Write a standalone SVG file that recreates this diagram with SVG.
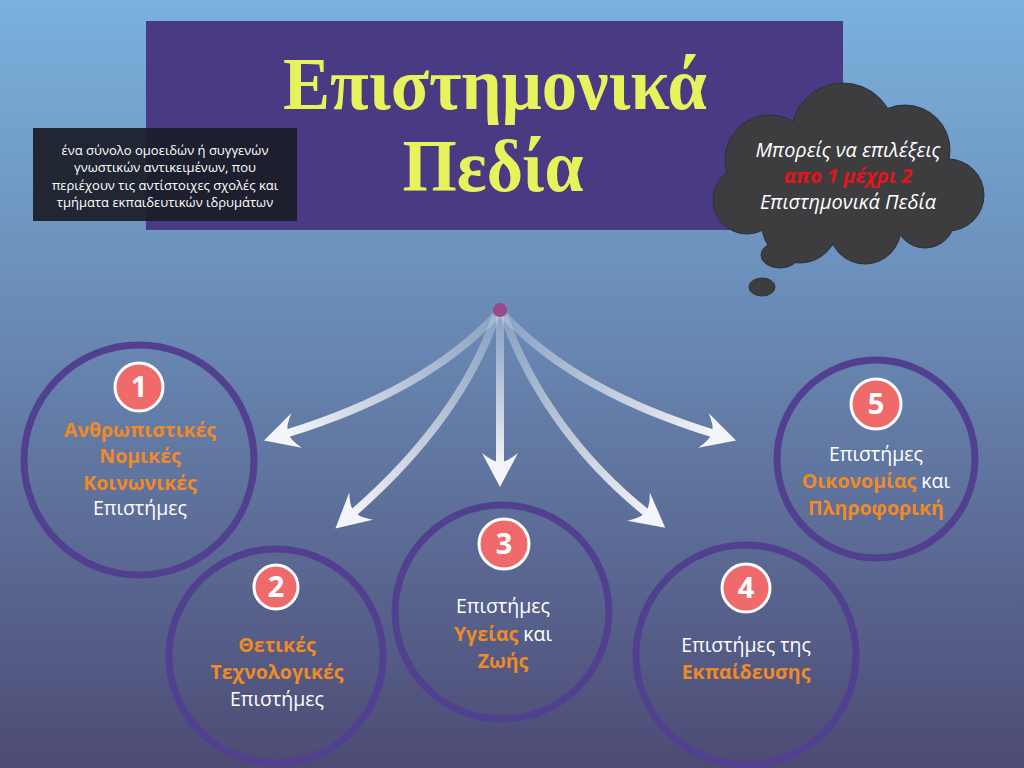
<svg xmlns="http://www.w3.org/2000/svg" width="1024" height="768" viewBox="0 0 1024 768">
<defs>
<linearGradient id="bg" x1="0" y1="0" x2="0" y2="1">
<stop offset="0" stop-color="#7ab1dd"/>
<stop offset="0.4" stop-color="#6a8cb7"/>
<stop offset="1" stop-color="#4d4b74"/>
</linearGradient>
<linearGradient id="g1" gradientUnits="userSpaceOnUse" x1="497" y1="313" x2="280" y2="436"><stop offset="0" stop-color="#fff" stop-opacity="0.2"/><stop offset="1" stop-color="#fff" stop-opacity="0.95"/></linearGradient>
<linearGradient id="g2" gradientUnits="userSpaceOnUse" x1="497" y1="313" x2="345" y2="525"><stop offset="0" stop-color="#fff" stop-opacity="0.2"/><stop offset="1" stop-color="#fff" stop-opacity="0.95"/></linearGradient>
<linearGradient id="g3" gradientUnits="userSpaceOnUse" x1="500" y1="313" x2="500" y2="470"><stop offset="0" stop-color="#fff" stop-opacity="0.2"/><stop offset="1" stop-color="#fff" stop-opacity="0.95"/></linearGradient>
<linearGradient id="g4" gradientUnits="userSpaceOnUse" x1="503" y1="313" x2="655" y2="525"><stop offset="0" stop-color="#fff" stop-opacity="0.2"/><stop offset="1" stop-color="#fff" stop-opacity="0.95"/></linearGradient>
<linearGradient id="g5" gradientUnits="userSpaceOnUse" x1="503" y1="313" x2="720" y2="436"><stop offset="0" stop-color="#fff" stop-opacity="0.2"/><stop offset="1" stop-color="#fff" stop-opacity="0.95"/></linearGradient>
<marker id="head" markerUnits="userSpaceOnUse" markerWidth="40" markerHeight="40" viewBox="0 -20 36 40" refX="12" refY="0" orient="auto">
<path d="M34,0 L0,-18 Q9,-7 9,0 Q9,7 0,18 Z" fill="#f3f5fa"/>
</marker>
<style>
.ring{fill:none;stroke:#51408f;stroke-width:7}
.badge{fill:#ef6a6a;stroke:#ffffff;stroke-width:3}
.num{font-family:"Open Sans","DejaVu Sans",sans-serif;font-weight:700;font-size:29px;fill:#ffffff;text-anchor:middle}
.t{font-family:"Open Sans","DejaVu Sans",sans-serif;font-size:19.5px;fill:#ffffff;text-anchor:middle}
.o{fill:#f08a26;font-weight:700}
.arrow{fill:none;stroke-width:8;marker-end:url(#head)}
</style>
</defs>
<rect width="1024" height="768" fill="url(#bg)"/>

<g id="title">
<rect x="146" y="21" width="697" height="209" fill="#4a3a83"/>
<text x="495" y="109" font-family="'Liberation Serif','DejaVu Serif',serif" font-weight="700" font-size="74" fill="#e7f35c" text-anchor="middle" textLength="424" lengthAdjust="spacingAndGlyphs">Επιστημονικά</text>
<text x="493" y="191" font-family="'Liberation Serif','DejaVu Serif',serif" font-weight="700" font-size="74" fill="#e7f35c" text-anchor="middle" textLength="181" lengthAdjust="spacingAndGlyphs">Πεδία</text>
</g>

<g id="definition">
<rect x="33" y="128" width="264" height="93" fill="#1b1d28" fill-opacity="0.93"/>
<g font-family="'Open Sans','DejaVu Sans',sans-serif" font-size="13" fill="#ffffff" text-anchor="middle">
<text x="165" y="155">ένα σύνολο ομοειδών ή συγγενών</text>
<text x="165" y="172">γνωστικών αντικειμένων, που</text>
<text x="165" y="190">περιέχουν τις αντίστοιχες σχολές και</text>
<text x="165" y="207">τμήματα εκπαιδευτικών ιδρυμάτων</text>
</g>
</g>

<g id="cloud">
<g fill="#3d3d3f" stroke="#2f3038" stroke-width="1">
<circle cx="843" cy="135" r="52"/>
<circle cx="905" cy="150" r="45"/>
<circle cx="770" cy="160" r="45"/>
<circle cx="747" cy="200" r="34"/>
<circle cx="948" cy="195" r="36"/>
<circle cx="800" cy="225" r="38"/>
<circle cx="865" cy="228" r="36"/>
<circle cx="925" cy="218" r="30"/>
<ellipse cx="780" cy="255" rx="19" ry="13"/>
<ellipse cx="762" cy="287" rx="13" ry="9"/>
</g>
<g fill="#3d3d3f">
<circle cx="843" cy="135" r="51"/>
<circle cx="905" cy="150" r="44"/>
<circle cx="770" cy="160" r="44"/>
<circle cx="747" cy="200" r="33"/>
<circle cx="948" cy="195" r="35"/>
<circle cx="800" cy="225" r="37"/>
<circle cx="865" cy="228" r="35"/>
<circle cx="925" cy="218" r="29"/>
<ellipse cx="850" cy="188" rx="105" ry="55"/>
</g>
<g font-family="'Open Sans','DejaVu Sans',sans-serif" font-style="italic" font-size="20" text-anchor="middle">
<text x="848" y="157" fill="#ffffff" textLength="185" lengthAdjust="spacingAndGlyphs">Μπορείς να επιλέξεις</text>
<text x="848" y="183" fill="#e3141c" font-weight="700">απο 1 μέχρι 2</text>
<text x="848" y="209" fill="#ffffff" textLength="176" lengthAdjust="spacingAndGlyphs">Επιστημονικά Πεδία</text>
</g>
</g>

<g id="connectors">
<path class="arrow" stroke="url(#g1)" d="M497,314 C450,365 380,405 285,434"/>
<path class="arrow" stroke="url(#g2)" d="M496,316 C470,390 420,455 352,514"/>
<path class="arrow" stroke="url(#g3)" d="M500,316 L500,465"/>
<path class="arrow" stroke="url(#g4)" d="M504,316 C530,390 580,460 648,514"/>
<path class="arrow" stroke="url(#g5)" d="M503,314 C550,365 620,405 715,434"/>
<circle cx="500" cy="310" r="7" fill="#9a4a8c"/>
</g>

<g id="node1">
<circle class="ring" cx="139" cy="460" r="115"/>
<circle class="badge" cx="139" cy="387" r="24"/>
<text class="num" x="139" y="397">1</text>
<text class="t o" x="140" y="437">Ανθρωπιστικές</text>
<text class="t o" x="140" y="463">Νομικές</text>
<text class="t o" x="140" y="490">Κοινωνικές</text>
<text class="t" x="140" y="515">Επιστήμες</text>
</g>

<g id="node2">
<circle class="ring" cx="276" cy="656" r="107"/>
<circle class="badge" cx="276" cy="587" r="22"/>
<text class="num" x="276" y="597">2</text>
<text class="t o" x="277" y="652">Θετικές</text>
<text class="t o" x="277" y="679">Τεχνολογικές</text>
<text class="t" x="277" y="706">Επιστήμες</text>
</g>

<g id="node3">
<circle class="ring" cx="502" cy="612" r="107"/>
<circle class="badge" cx="504" cy="544" r="25"/>
<text class="num" x="504" y="554">3</text>
<text class="t" x="503" y="613">Επιστήμες</text>
<text class="t" x="503" y="641"><tspan class="o">Υγείας</tspan> και</text>
<text class="t o" x="503" y="668">Ζωής</text>
</g>

<g id="node4">
<circle class="ring" cx="746" cy="655" r="110"/>
<circle class="badge" cx="746" cy="588" r="24"/>
<text class="num" x="746" y="598">4</text>
<text class="t" x="746" y="652">Επιστήμες της</text>
<text class="t o" x="746" y="679">Εκπαίδευσης</text>
</g>

<g id="node5">
<circle class="ring" cx="876" cy="459" r="99"/>
<circle class="badge" cx="876" cy="404" r="25"/>
<text class="num" x="876" y="414">5</text>
<text class="t" x="876" y="461">Επιστήμες</text>
<text class="t" x="876" y="488"><tspan class="o">Οικονομίας</tspan> και</text>
<text class="t o" x="876" y="515">Πληροφορική</text>
</g>
</svg>
